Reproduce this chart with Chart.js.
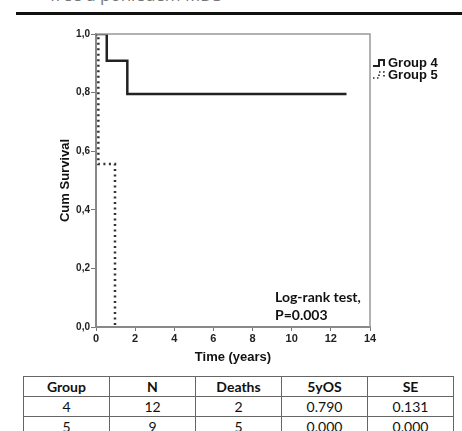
<!DOCTYPE html>
<html><head><meta charset="utf-8">
<script src="https://cdn.jsdelivr.net/npm/chart.js@4.4.0/dist/chart.umd.min.js"></script>
<style>
html,body{margin:0;padding:0;background:#fff;width:462px;height:431px;overflow:hidden;position:relative;}
#hdr{position:absolute;left:50px;top:-17px;font:17px "Open Sans",sans-serif;color:#777;white-space:nowrap;}
#rule{position:absolute;left:16px;top:12px;width:446px;height:3px;background:#111;}
#wrap{position:absolute;left:0;top:0;width:462px;height:365px;}
table{position:absolute;left:23px;top:376px;width:431px;border-collapse:collapse;font:14px Lato,"Open Sans",sans-serif;color:#111;table-layout:fixed;}
td,th{border:1px solid #666;height:19px;padding:0;text-align:center;line-height:19px;}
th{font-weight:bold;}
</style></head>
<body>
<div id="hdr">free a pohledem MDS</div>
<div id="rule"></div>
<div id="wrap"><canvas id="c" width="462" height="365"></canvas></div>
<table id="tbl"></table>
<script>
const groups = ["Group 4", "Group 5"];
const times4 = [0, 0.55, 1.6, 12.8];
const surv4  = [1.0, 0.909, 0.795, 0.795];
const times5 = [0, 0.12, 0.97];
const surv5  = [1.0, 0.556, 0.0];
const tableHeader = ["Group", "N", "Deaths", "5yOS", "SE"];
const tableRows = [
  ["4", "12", "2", "0.790", "0.131"],
  ["5", "9", "5", "0.000", "0.000"]
];
const testText = ["Log-rank test,", "P=0.003"];

// table
const tbl = document.getElementById('tbl');
let html = '<tr>' + tableHeader.map(h => '<th>' + h + '</th>').join('') + '</tr>';
tableRows.forEach(r => { html += '<tr>' + r.map(v => '<td>' + v + '</td>').join('') + '</tr>'; });
tbl.innerHTML = html;

const toPts = (t, s) => t.map((x, i) => ({x: x, y: s[i]}));
const AR = 'Arial, "Liberation Sans", sans-serif';

const extras = {
  id: 'extras',
  afterDraw(chart) {
    const {ctx, chartArea: a} = chart;
    ctx.save();
    ctx.strokeStyle = '#999';
    ctx.lineWidth = 1.5;
    ctx.beginPath();
    ctx.moveTo(a.left, a.top); ctx.lineTo(a.right, a.top); ctx.lineTo(a.right, a.bottom);
    ctx.stroke();
    ctx.font = 'bold 13px ' + AR;
    ctx.fillStyle = '#111';
    ctx.textBaseline = 'middle';
    const lx = a.right + 3;
    const ys = [63, 75];
    groups.forEach((g, i) => {
      const y = ys[i];
      ctx.beginPath();
      ctx.strokeStyle = '#222';
      ctx.lineWidth = i === 0 ? 2 : 1.6;
      ctx.setLineDash(i === 0 ? [] : [1.5, 2.5]);
      ctx.moveTo(lx, y + 3); ctx.lineTo(lx + 6, y + 3); ctx.lineTo(lx + 6, y - 3);
      ctx.lineTo(lx + 11, y - 3); ctx.lineTo(lx + 11, y + 3);
      ctx.stroke();
      ctx.setLineDash([]);
      ctx.fillText(g, lx + 15, y);
    });
    ctx.font = 'bold 14px Lato, "Open Sans", sans-serif';
    ctx.fillText(testText[0], 275, 297);
    ctx.fillText(testText[1], 275, 315);
    ctx.restore();
  }
};

new Chart(document.getElementById('c'), {
  type: 'line',
  data: {
    datasets: [
      { label: groups[0], data: toPts(times4, surv4), stepped: 'before',
        borderColor: '#222', borderWidth: 2.5, pointRadius: 0, fill: false },
      { label: groups[1], data: toPts(times5, surv5), stepped: 'before',
        borderColor: '#333', borderWidth: 2.5, borderDash: [2, 3.5], pointRadius: 0, fill: false }
    ]
  },
  options: {
    responsive: false,
    animation: false,
    layout: { padding: { left: 58, top: 34, right: 92, bottom: 0 } },
    plugins: { legend: { display: false }, tooltip: { enabled: false } },
    scales: {
      x: {
        type: 'linear', min: 0, max: 14,
        afterFit(s) { s.height = 38; },
        ticks: { stepSize: 2, padding: 1, color: '#222',
                 font: { family: AR, size: 11, weight: 'bold' } },
        grid: { display: true, drawOnChartArea: false, drawTicks: true, tickLength: 4, color: '#777' },
        border: { display: true, color: '#888', width: 2 },
        title: { display: true, text: 'Time (years)', color: '#111',
                 font: { family: AR, size: 13, weight: 'bold' },
                 padding: { top: 0, bottom: 0 } }
      },
      y: {
        type: 'linear', min: 0, max: 1,
        afterFit(s) { s.width = 38; },
        ticks: { stepSize: 0.2, padding: 1, color: '#222',
                 callback: v => v.toFixed(1).replace('.', ','),
                 font: { family: AR, size: 10, weight: 'bold' } },
        grid: { display: true, drawOnChartArea: false, drawTicks: true, tickLength: 5, color: '#777' },
        border: { display: true, color: '#888', width: 2 },
        title: { display: true, text: 'Cum Survival', color: '#111',
                 font: { family: AR, size: 13, weight: 'bold' },
                 padding: { top: 0, bottom: 0 } }
      }
    }
  },
  plugins: [extras]
});
</script>
</body></html>
